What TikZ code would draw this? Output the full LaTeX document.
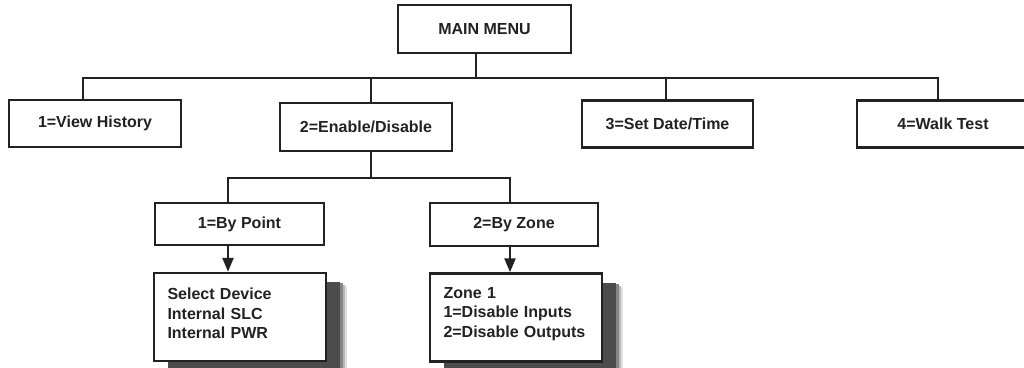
\documentclass[tikz,border=0pt]{standalone}
\usepackage{fontspec}
\setmainfont{Liberation Sans}
\usetikzlibrary{arrows.meta, shadows}
\definecolor{ink}{HTML}{222222}

\begin{document}
\begin{tikzpicture}[x=1pt, y=-1pt,
  menu/.style={draw=ink, line width=2.5pt, fill=white, inner sep=0pt,
    minimum width=172pt, minimum height=47pt, text=ink,
    font=\fontsize{16}{19.5}\selectfont\bfseries},
  listbox/.style={menu, align=left, text width=145pt, inner xsep=13pt,
    minimum height=88pt, execute at end node={\endgraf\vspace*{7pt}},
    drop shadow={shadow xshift=21pt, shadow yshift=-13pt, opacity=1, fill=black!12},
    drop shadow={shadow xshift=19pt, shadow yshift=-12pt, opacity=1, fill=black!28},
    drop shadow={shadow xshift=17pt, shadow yshift=-10pt, opacity=1, fill=black!48},
    drop shadow={shadow xshift=14pt, shadow yshift=-9pt, opacity=1, fill=black!70}},
  link/.style={draw=ink, line width=2.5pt},
  pointer/.style={link, -{Triangle[width=11pt, length=14pt]}}]

  \useasboundingbox (0,0) rectangle (1024,367);

  % ────────────────────────────────────────────────────────────────────
  % Top level
  % ────────────────────────────────────────────────────────────────────
  \node[menu, minimum width=173pt, minimum height=48pt] (main) at (484.5,29) {MAIN MENU};

  % first row of menu entries
  \node[menu] (hist) at (95,123.5) {1=View History};
  \node[menu, minimum height=48pt] (able) at (366,127) {2=Enable/Disable};
  \node[menu, minimum width=171pt] (date) at (667.5,124) {3=Set Date/Time};
  \node[menu] (walk) at (943,124) {4=Walk Test};

  % bus below main menu
  \coordinate (top) at (476,78);
  \coordinate (b1)  at (83,78);
  \coordinate (b2)  at (371,78);
  \coordinate (b3)  at (666,78);
  \coordinate (b4)  at (938,78);

  \draw[link] (main.south -| top) -- (top);
  \draw[link] (hist.north -| b1) |- (b4) -- (walk.north -| b4);
  \draw[link] (b2) -- (able.north -| b2);
  \draw[link] (b3) -- (date.north -| b3);

  % ────────────────────────────────────────────────────────────────────
  % Enable/Disable sub menu
  % ────────────────────────────────────────────────────────────────────
  \node[menu, minimum width=169pt, minimum height=42pt] (point) at (239.5,224) {1=By Point};
  \node[menu, minimum width=168pt, minimum height=43pt] (zone)  at (514,224.5) {2=By Zone};

  \coordinate (mid) at (371,178);
  \coordinate (s1)  at (228,178);
  \coordinate (s2)  at (510,178);

  \draw[link] (able.south -| mid) -- (mid);
  \draw[link] (point.north -| s1) |- (s2) -- (zone.north -| s2);

  % ── option lists (with shadow) ──
  \node[listbox] (dev) at (240,317)   {Select Device\\Internal SLC\\Internal PWR};
  \node[listbox] (zin) at (516,317.5) {Zone 1\\1=Disable Inputs\\2=Disable Outputs};

  \draw[pointer] (point.south -| s1) -- (dev.north -| s1);
  \draw[pointer] (zone.south -| s2)  -- (zin.north -| s2);

\end{tikzpicture}
\end{document}
